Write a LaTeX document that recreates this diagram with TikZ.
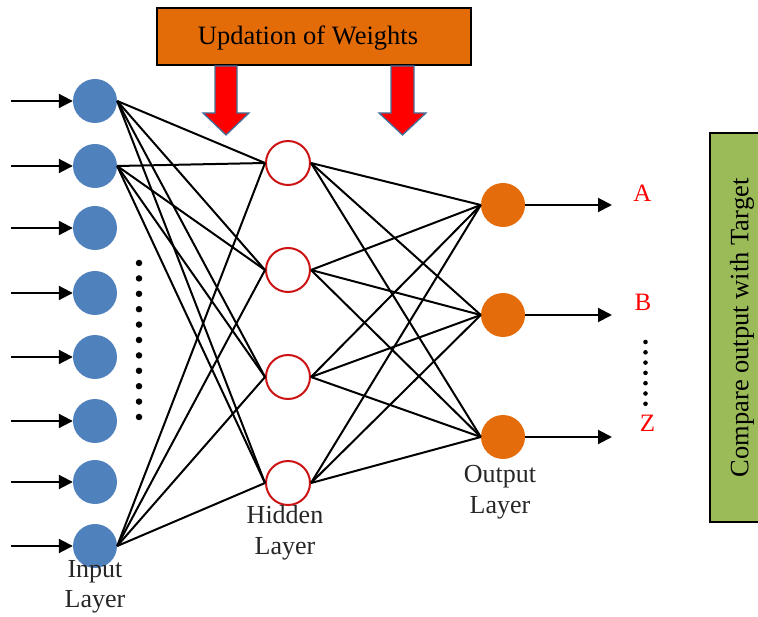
\documentclass[tikz,border=0pt]{standalone}
\usepackage{fontspec}
\setmainfont{Liberation Serif}
\usetikzlibrary{arrows.meta}
\definecolor{inblue}{HTML}{4F81BD}
\definecolor{hidred}{HTML}{CC1414}
\definecolor{outorange}{HTML}{E46C0A}
\definecolor{boxorange}{HTML}{E36C09}
\definecolor{boxgreen}{HTML}{9BBB59}
\definecolor{arrowedge}{HTML}{41719C}
\definecolor{labelgray}{HTML}{262626}
\begin{document}
\begin{tikzpicture}[x=1pt,y=-1pt,
  inputnode/.style={circle,fill=inblue,minimum size=44pt,inner sep=0pt},
  hiddennode/.style={circle,draw=hidred,line width=2pt,fill=white,minimum size=44pt,inner sep=0pt},
  outnode/.style={circle,fill=outorange,minimum size=44pt,inner sep=0pt},
  link/.style={line width=2pt,black},
  feed/.style={line width=2pt,black,-{Triangle[length=14pt,width=14pt]}},
  lbl/.style={font=\fontsize{26}{30.5}\selectfont,align=center,text=labelgray,inner sep=0pt},
  outlbl/.style={font=\fontsize{25}{28}\selectfont,text=red,inner sep=0pt},
  titlebox/.style={draw=black,line width=2pt,inner sep=0pt,font=\fontsize{26.5}{30}\selectfont},
  blockarrow/.style={fill=red,draw=arrowedge,line width=1.3pt,line join=miter},
  dotmark/.style={circle,fill=black,inner sep=0pt}
]
\useasboundingbox (0,0) rectangle (758,617);
\clip (0,0) rectangle (758,617);

% input layer
\foreach \n/\y in {1/101,2/166,3/228,4/293,5/357,6/421,7/482,8/546}{
  \node[inputnode] (i\n) at (95,\y) {};
  \coordinate (s\n) at (11,\y);
  \draw[feed] (s\n) -- (i\n.west);
}

% hidden layer
\foreach \n/\y in {1/163,2/270,3/377,4/483}{
  \node[hiddennode] (h\n) at (288,\y) {};
}

% output layer
\foreach \n/\y in {1/205,2/315,3/437}{
  \node[outnode] (o\n) at (503,\y) {};
  \coordinate (t\n) at (612,\y);
  \draw[feed] (o\n.east) -- (t\n);
}

% input-to-hidden weights
\foreach \i in {1,2,8}{
  \foreach \h in {1,2,3,4}{
    \draw[link] (i\i.east) -- (h\h.west);
  }
}

% hidden-to-output weights
\foreach \h in {1,2,3,4}{
  \foreach \o in {1,2,3}{
    \draw[link] (h\h.east) -- (o\o.west);
  }
}

% ellipsis between the input neurons
\foreach \k in {0,...,10}{
  \node[dotmark,minimum size=6.5pt] (id\k) at (139,263+15.4*\k) {};
}

% ellipsis between the outputs
\foreach \k in {0,...,6}{
  \node[dotmark,minimum size=4.6pt] (od\k) at (645.5,342+10.3*\k) {};
}

% output labels
\node[outlbl] (la) at (642.5,193) {A};
\node[outlbl] (lb) at (643,302) {B};
\node[outlbl] (lz) at (647.5,423) {Z};

% layer names
\node[lbl] (inlbl) at (95,587) {Input\\Layer};
\node[lbl] (hidlbl) at (285,533) {Hidden\\Layer};
\node[lbl] (outlbl) at (500,492) {Output\\Layer};

% weight-update box and its arrows
\node[titlebox,fill=boxorange,minimum width=314pt,minimum height=57pt] (upd) at (314,36.5) {};
\node[font=\fontsize{26.5}{30}\selectfont,inner sep=0pt] (updtext) at (308,38) {Updation of Weights};
\draw[blockarrow] (215,66) -- (237,66) -- (237,113) -- (249,113) -- (226,135) -- (203,113) -- (215,113) -- cycle;
\draw[blockarrow] (391,66) -- (414,66) -- (414,113) -- (426,113) -- (402.5,135) -- (379,113) -- (391,113) -- cycle;

% comparison box
\node[draw=black,line width=2pt,fill=boxgreen,minimum width=60pt,minimum height=389pt,inner sep=0pt] (cmp) at (740,327.5) {};
\node[font=\fontsize{26.5}{30}\selectfont,rotate=90,inner sep=0pt] (cmptext) at (742,328) {Compare output with Target};
\end{tikzpicture}
\end{document}
